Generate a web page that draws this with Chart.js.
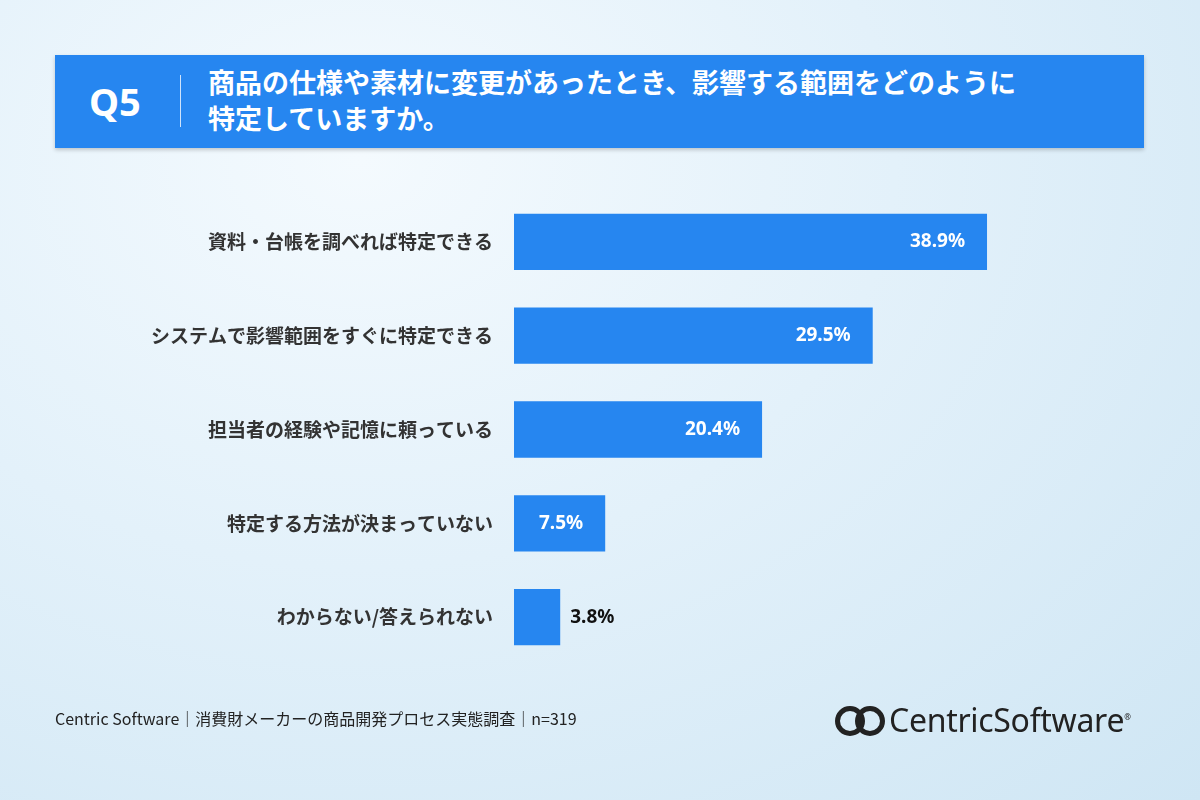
<!DOCTYPE html>
<html><head><meta charset="utf-8">
<script src="https://cdn.jsdelivr.net/npm/chart.js@4"></script>
<style>
body{margin:0;width:1200px;height:800px;overflow:hidden;font-family:"Noto Sans CJK JP","Noto Sans",sans-serif;
background:radial-gradient(ellipse at 30% 20%,#f4fafe 0%,#e3f1fa 45%,#cfe6f4 100%);position:relative}
#hdr{position:absolute;left:55px;top:55px;width:1089px;height:93px;background:#2686f0;box-shadow:0 2px 4px rgba(0,0,0,.2);color:#fff}
#q{position:absolute;left:34px;top:20px;font:bold 38px "Noto Sans",sans-serif}
#sep{position:absolute;left:125px;top:20px;width:1px;height:52px;background:#cfe3fb}
#t{position:absolute;left:153px;top:9px;font-weight:bold;font-size:27px;line-height:36px}
#wrap{position:absolute;left:0;top:0;width:1200px;height:800px}
#foot{position:absolute;left:55px;top:706px;font-size:16px;color:#222}
#logo{position:absolute;left:833px;top:698px;font:32px "Noto Sans",sans-serif;color:#222;letter-spacing:-0.3px}
</style></head><body>
<div id="hdr"><div id="q">Q5</div><div id="sep"></div><div id="t">商品の仕様や素材に変更があったとき、影響する範囲をどのように<br>特定していますか。</div></div>
<div id="wrap"><canvas id="c"></canvas></div>
<div id="foot">Centric Software｜消費財メーカーの商品開発プロセス実態調査｜n=319</div>
<div id="logo"><svg width="56" height="32" style="vertical-align:-5px"><circle cx="17" cy="16" r="12.5" fill="none" stroke="#222" stroke-width="5"/><circle cx="37" cy="16" r="12.5" fill="none" stroke="#222" stroke-width="5"/></svg>CentricSoftware<sup style="font-size:8px">®</sup></div>
<script>
var categories = ['資料・台帳を調べれば特定できる','システムで影響範囲をすぐに特定できる','担当者の経験や記憶に頼っている','特定する方法が決まっていない','わからない/答えられない'];
var values = [38.9, 29.5, 20.4, 7.5, 3.8];

var valueLabels = {
  id: 'valueLabels',
  afterDatasetsDraw: function (chart) {
    var c = chart.ctx;
    var meta = chart.getDatasetMeta(0);
    c.save();
    c.font = 'bold 19px "Noto Sans", sans-serif';
    c.textBaseline = 'middle';
    meta.data.forEach(function (bar, i) {
      var txt = values[i].toFixed(1) + '%';
      if (values[i] > 5) {
        c.fillStyle = '#fff'; c.textAlign = 'right';
        c.fillText(txt, bar.x - 22, bar.y);
      } else {
        c.fillStyle = '#111'; c.textAlign = 'left';
        c.fillText(txt, bar.x + 10, bar.y);
      }
    });
    c.restore();
  }
};

new Chart(document.getElementById('c'), {
  type: 'bar',
  data: { labels: categories, datasets: [{ data: values, backgroundColor: '#2686f0', barPercentage: 0.6, categoryPercentage: 1 }] },
  options: {
    indexAxis: 'y', responsive: true, maintainAspectRatio: false, animation: false,
    layout: { padding: { left: 0, right: 78, top: 195, bottom: 136 } },
    plugins: { legend: { display: false }, tooltip: { enabled: false } },
    scales: {
      x: { display: false, min: 0, max: 50 },
      y: {
        grid: { display: false }, border: { display: false },
        afterFit: function (s) { s.width = 514; },
        ticks: { color: '#333', padding: 13, font: { size: 19, weight: 'bold', family: '"Noto Sans CJK JP"' } }
      }
    }
  },
  plugins: [valueLabels]
});
</script>
</body></html>
